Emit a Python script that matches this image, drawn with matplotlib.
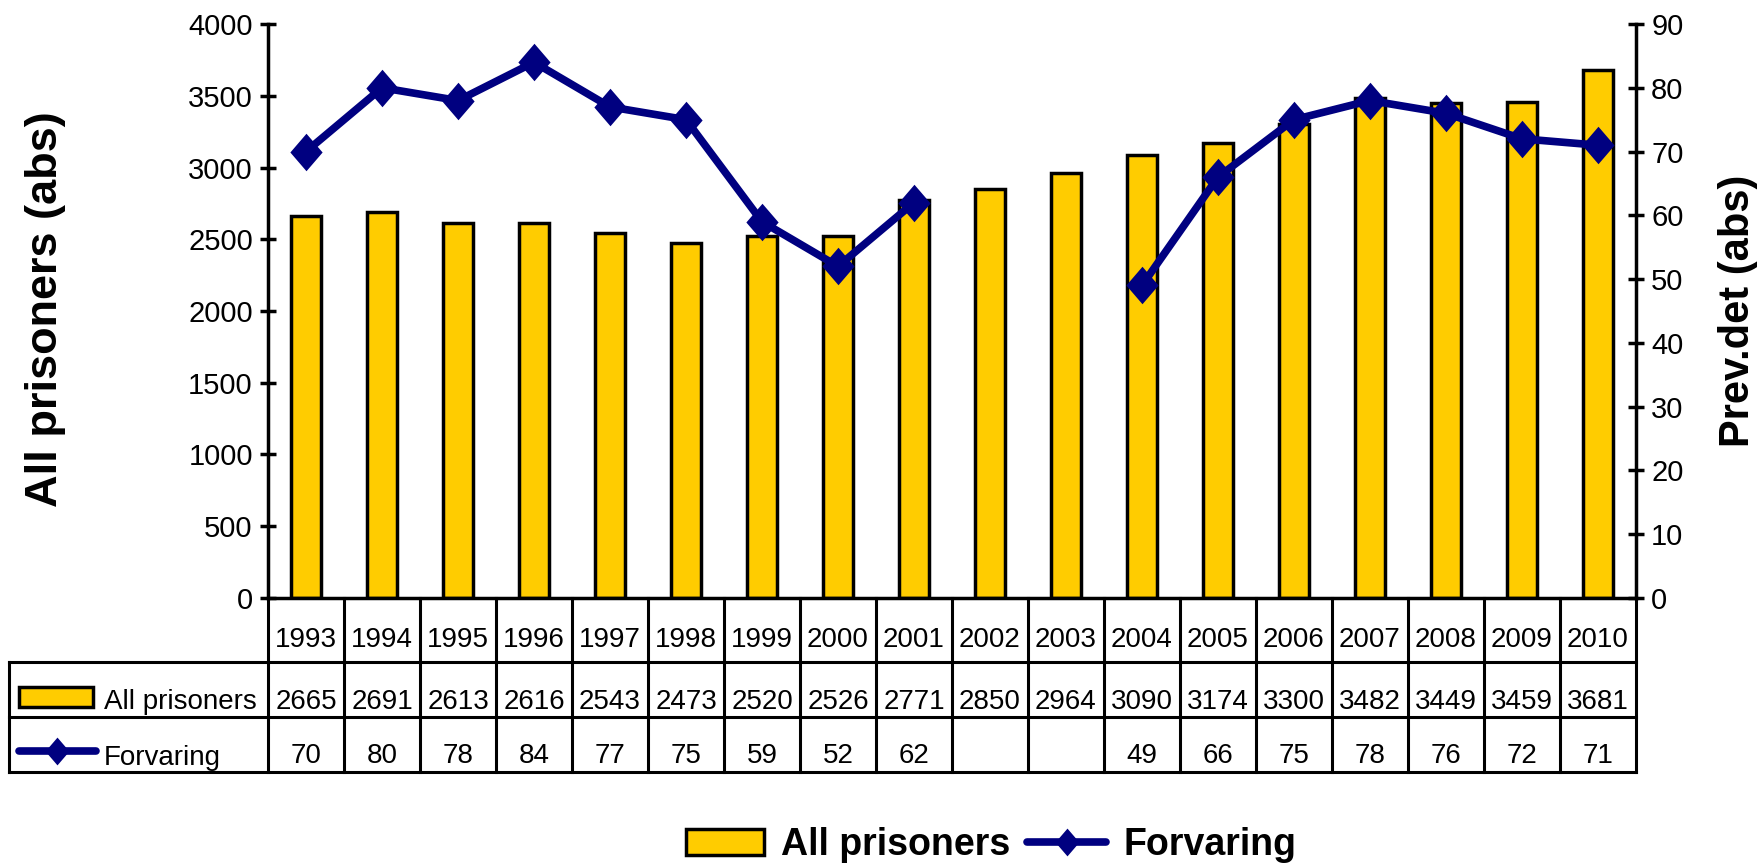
import numpy as np
import matplotlib
matplotlib.use("Agg")
import matplotlib.pyplot as plt
from matplotlib.patches import Rectangle
from matplotlib.lines import Line2D
from matplotlib import transforms

plt.rcParams['font.family'] = ['Liberation Sans', 'DejaVu Sans']

years = [1993, 1994, 1995, 1996, 1997, 1998, 1999, 2000, 2001,
         2002, 2003, 2004, 2005, 2006, 2007, 2008, 2009, 2010]
all_prisoners = [2665, 2691, 2613, 2616, 2543, 2473, 2520, 2526, 2771,
                 2850, 2964, 3090, 3174, 3300, 3482, 3449, 3459, 3681]
forvaring = [70, 80, 78, 84, 77, 75, 59, 52, 62,
             np.nan, np.nan, 49, 66, 75, 78, 76, 72, 71]

bar_color = '#FFCC00'
line_color = '#000080'
diamond = [(0, 1), (0.86, 0), (0, -1), (-0.86, 0), (0, 1)]

fig = plt.figure(figsize=(17.6, 8.67), dpi=100)
ax = fig.add_axes([0.1523, 0.3103, 0.9295 - 0.1523, 0.9723 - 0.3103])
x = np.arange(len(years))

ax.bar(x, all_prisoners, width=0.4, color=bar_color, edgecolor='black', linewidth=2.5, zorder=2)
ax.set_xlim(-0.5, len(years) - 0.5)
ax.set_ylim(0, 4000)
ax.set_yticks(np.arange(0, 4001, 500))
ax.set_xticks([])
for s in ['top', 'right']:
    ax.spines[s].set_visible(False)
for s in ['left', 'bottom']:
    ax.spines[s].set_linewidth(2.5)
ax.tick_params(axis='y', direction='inout', length=12, width=2.5, labelsize=21, pad=5)

ax2 = ax.twinx()
ax2.plot(x, forvaring, color=line_color, linewidth=5.5, marker=diamond,
         markersize=27, markeredgewidth=0, zorder=3)
ax2.set_ylim(0, 90)
ax2.set_yticks(np.arange(0, 91, 10))
for s in ['top', 'left', 'bottom']:
    ax2.spines[s].set_visible(False)
ax2.spines['right'].set_linewidth(2.5)
ax2.tick_params(axis='y', direction='inout', length=12, width=2.5, labelsize=21, pad=5)

# axis titles
fig.text(45 / 1760, 0.643, 'All prisoners (abs)', rotation=90, ha='center', va='center',
         fontsize=32.5, fontweight='bold')
fig.text(1738 / 1760, 0.642, 'Prev.det (abs)', rotation=90, ha='center', va='center',
         fontsize=30, fontweight='bold')

# data table below the plot
trans = transforms.blended_transform_factory(ax.transData, fig.transFigure)
y_axis = 0.3103
y_rows = [0.2364, 0.1730, 0.1096]
base = [0.2537, 0.1822, 0.1200]
left_edge = 9 / 1760
lw_tab = 2.2
fs_tab = 20

for b in np.arange(-0.5, len(years), 1.0):
    fig.add_artist(Line2D([b, b], [y_axis, y_rows[-1]], transform=trans,
                          color='black', linewidth=lw_tab))
fig.add_artist(Line2D([left_edge, left_edge], [y_rows[0], y_rows[-1]],
                      transform=fig.transFigure, color='black', linewidth=lw_tab))
for yr in y_rows:
    fig.add_artist(Line2D([left_edge, 0.9295], [yr, yr], transform=fig.transFigure,
                          color='black', linewidth=lw_tab))

for i in range(len(years)):
    fig.text(x[i], base[0], str(years[i]), transform=trans, ha='center', va='baseline', fontsize=fs_tab)
    fig.text(x[i], base[1], str(all_prisoners[i]), transform=trans, ha='center', va='baseline', fontsize=fs_tab)
    if not np.isnan(forvaring[i]):
        fig.text(x[i], base[2], str(int(forvaring[i])), transform=trans, ha='center', va='baseline', fontsize=fs_tab)

fig.add_artist(Rectangle((19 / 1760, 1 - 707 / 867), 74 / 1760, 20 / 867, transform=fig.transFigure,
                         facecolor=bar_color, edgecolor='black', linewidth=2.5))
fig.text(104 / 1760, base[1], 'All prisoners', ha='left', va='baseline', fontsize=fs_tab)
fig.add_artist(Line2D([19 / 1760, 96 / 1760], [1 - 751 / 867] * 2, transform=fig.transFigure,
                      color=line_color, linewidth=5.5, solid_capstyle='round'))
fig.add_artist(Line2D([57 / 1760], [1 - 751 / 867], transform=fig.transFigure, color=line_color,
                      marker=diamond, markersize=20, markeredgewidth=0, linestyle='none'))
fig.text(104 / 1760, 1 - 765 / 867, 'Forvaring', ha='left', va='baseline', fontsize=fs_tab)

# legend at the bottom
h_bar = Rectangle((0, 0), 1, 1, facecolor=bar_color, edgecolor='black', linewidth=2.5)
h_line = Line2D([], [], color=line_color, linewidth=5.5, marker=diamond, markersize=20,
                markeredgewidth=0, solid_capstyle='round')
fig.legend([h_bar, h_line], ['All prisoners', 'Forvaring'], loc='center',
           bbox_to_anchor=(0.563, 0.0254), ncol=2, frameon=False,
           prop={'size': 27, 'weight': 'bold'}, handlelength=2.1, handletextpad=0.45,
           columnspacing=0.45, borderpad=0, borderaxespad=0)

fig.savefig('out.png', dpi=100)
